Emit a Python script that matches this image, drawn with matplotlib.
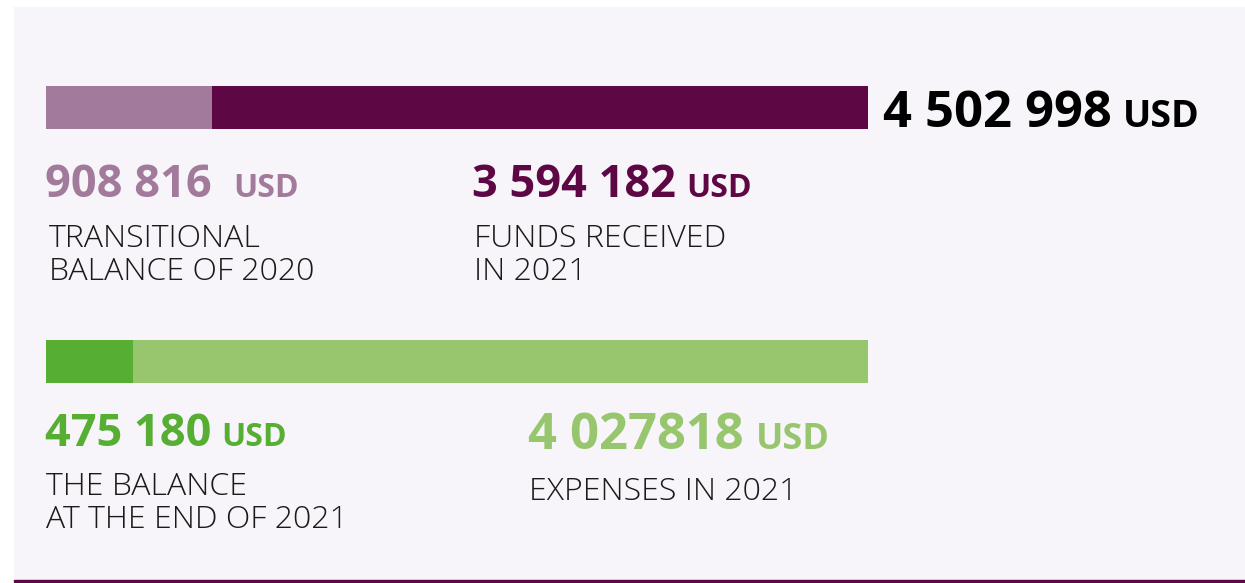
import matplotlib.pyplot as plt
from matplotlib.patches import Rectangle

# values (USD)
total = 4502998
balance_2020 = 908816
funds_2021 = 3594182
balance_end_2021 = 475180
expenses_2021 = 4027818

top_values = [balance_2020, funds_2021]
top_colors = ['#a27a9b', '#5e0745']
bottom_values = [balance_end_2021, expenses_2021]
bottom_colors = ['#56ae33', '#98c66e']

W, H = 1245, 583
plt.rcParams['font.family'] = ['Open Sans', 'DejaVu Sans']

fig = plt.figure(figsize=(W / 100, H / 100), dpi=100, facecolor='white')

# panel background and bottom rule
fig.patches.append(Rectangle((14 / W, 0), 1 - 14 / W, 1 - 7 / H,
                             transform=fig.transFigure, color='#f7f5f9', zorder=-5))
fig.patches.append(Rectangle((14 / W, 1 / H), 1 - 14 / W, 1.6 / H,
                             transform=fig.transFigure, color='#5e0745', zorder=1))

# bars
ax = fig.add_axes([46 / W, 0, (868 - 46) / W, 1])
ax.set_xlim(0, total)
ax.set_ylim(H, 0)
ax.axis('off')
left = 0
for v, c in zip(top_values, top_colors):
    ax.barh(107.5, v, left=left, height=43, color=c)
    left += v
left = 0
for v, c in zip(bottom_values, bottom_colors):
    ax.barh(361.5, v, left=left, height=43, color=c)
    left += v


def fmt(v):
    return f'{v:,}'.replace(',', ' ')


def txt(x, y, s, size, color, weight='normal'):
    fig.text(x / W, 1 - y / H, s, fontsize=size, color=color,
             fontweight=weight, va='baseline', ha='left')


label_color = '#1a1a1a'
num_size, usd_size, lab_size = 32.5, 23, 23

txt(883, 127, fmt(total), 36.5, '#000000', 'bold')
txt(1123, 127, 'USD', 27, '#000000', 'bold')

txt(45, 197, fmt(balance_2020), num_size, top_colors[0], 'bold')
txt(233, 197, 'USD', usd_size, top_colors[0], 'bold')
txt(49, 247, 'TRANSITIONAL', lab_size, label_color, 'light')
txt(49, 280, 'BALANCE OF 2020', lab_size, label_color, 'light')

txt(472, 197, fmt(funds_2021), num_size, top_colors[1], 'bold')
txt(686, 197, 'USD', usd_size, top_colors[1], 'bold')
txt(474, 247, 'FUNDS RECEIVED', lab_size, label_color, 'light')
txt(474, 280, 'IN 2021', lab_size, label_color, 'light')

txt(45, 446, fmt(balance_end_2021), num_size, bottom_colors[0], 'bold')
txt(221, 446, 'USD', usd_size, bottom_colors[0], 'bold')
txt(46, 495, 'THE BALANCE', lab_size, label_color, 'light')
txt(46, 528, 'AT THE END OF 2021', lab_size, label_color, 'light')

txt(528, 449, '4 027818', 36.5, bottom_colors[1], 'bold')
txt(756, 449, 'USD', 26, bottom_colors[1], 'bold')
txt(529, 500, 'EXPENSES IN 2021', lab_size, label_color, 'light')

fig.savefig('out.png', dpi=100, facecolor=fig.get_facecolor())
